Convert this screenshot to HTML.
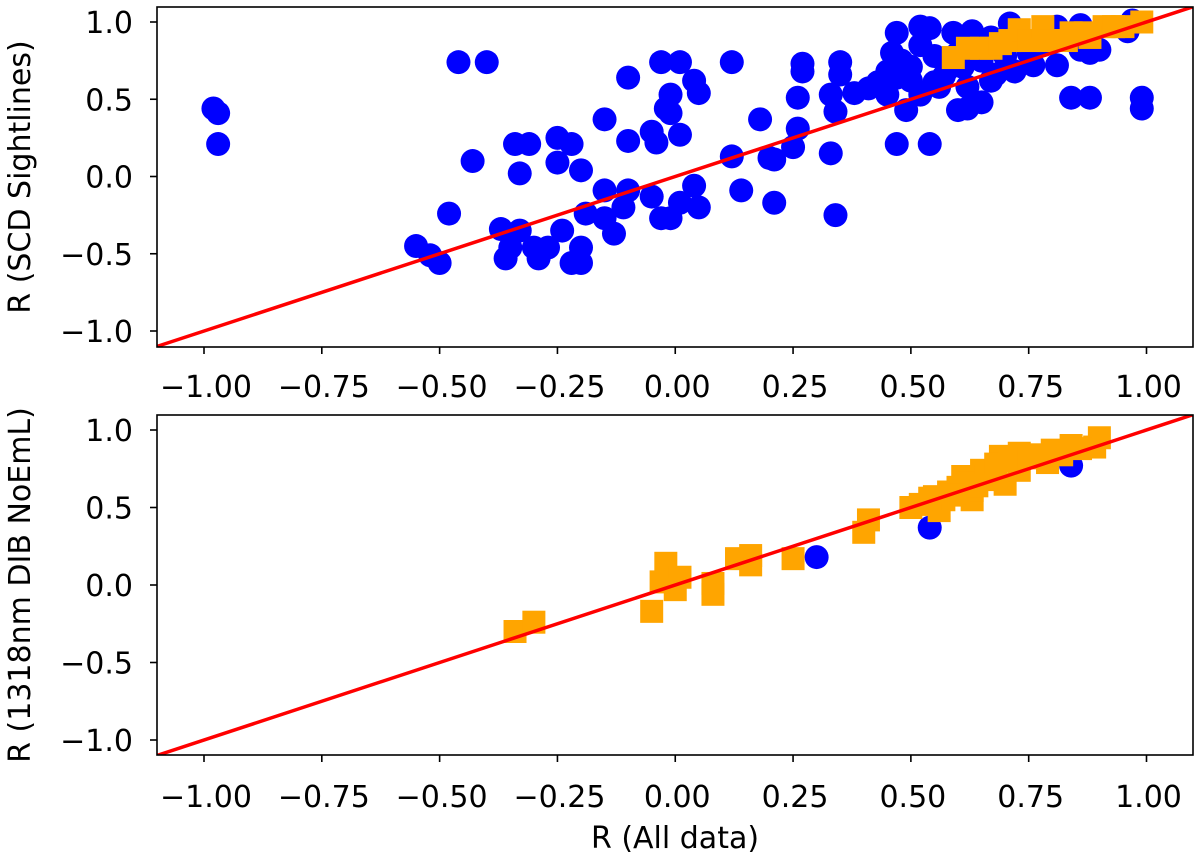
<!DOCTYPE html>
<html><head><meta charset="utf-8"><style>
html,body{margin:0;padding:0;background:#fff;}
svg text{font-family:"DejaVu Sans","Liberation Sans",sans-serif;font-size:30px;fill:#000;}
</style></head><body>
<svg id="chart" width="1200" height="861" xmlns="http://www.w3.org/2000/svg"></svg>
<script>
const xTicks=[-1.00,-0.75,-0.50,-0.25,0.00,0.25,0.50,0.75,1.00];
const yTicks=[-1.0,-0.5,0.0,0.5,1.0];
const topBlueX=[-0.98,-0.97,-0.97,-0.46,-0.40,-0.43,-0.48,-0.55,-0.52,-0.50,-0.34,-0.31,-0.33,-0.25,-0.22,-0.25,-0.20,-0.37,-0.33,-0.35,-0.36,-0.30,-0.27,-0.29,-0.24,-0.20,-0.22,-0.20,-0.15,-0.10,-0.10,-0.05,-0.04,-0.03,0.01,-0.01,-0.02,-0.01,0.01,0.04,0.05,-0.15,-0.10,-0.11,-0.15,-0.19,-0.13,-0.05,-0.03,-0.01,0.01,0.04,0.05,0.12,0.18,0.12,0.20,0.21,0.25,0.26,0.27,0.27,0.26,0.33,0.34,0.33,0.35,0.35,0.38,0.41,0.43,0.46,0.47,0.45,0.49,0.52,0.52,0.54,0.55,0.50,0.47,0.14,0.21,0.34,0.47,0.54,0.60,0.62,0.65,0.67,0.71,0.72,0.76,0.81,0.86,0.88,0.90,0.96,0.97,0.59,0.63,0.67,0.81,0.86,0.84,0.88,0.99,0.99,0.56,0.61,0.48,0.52,0.55,0.58,0.60,0.65,0.70,0.75,0.78,0.45,0.50,0.57,0.62,0.68];
const topBlueY=[0.44,0.41,0.21,0.74,0.74,0.10,-0.24,-0.45,-0.51,-0.56,0.21,0.21,0.02,0.25,0.21,0.09,0.04,-0.34,-0.35,-0.46,-0.53,-0.46,-0.46,-0.53,-0.35,-0.46,-0.56,-0.56,0.37,0.64,0.23,0.29,0.22,0.74,0.74,0.53,0.44,0.41,0.27,0.62,0.54,-0.09,-0.09,-0.20,-0.27,-0.24,-0.37,-0.13,-0.27,-0.27,-0.17,-0.06,-0.20,0.74,0.37,0.13,0.12,0.11,0.19,0.31,0.73,0.68,0.51,0.15,0.42,0.53,0.74,0.66,0.54,0.57,0.61,0.80,0.93,0.53,0.43,0.53,0.97,0.96,0.61,0.71,0.64,-0.09,-0.17,-0.25,0.21,0.21,0.43,0.44,0.48,0.62,0.99,0.68,0.72,0.72,0.82,0.80,0.82,0.94,1.01,0.93,0.94,0.90,0.97,0.98,0.51,0.51,0.51,0.44,0.58,0.71,0.75,0.85,0.78,0.70,0.80,0.75,0.78,0.80,0.85,0.68,0.62,0.65,0.58,0.66];
const topOrangeX=[0.59,0.65,0.67,0.71,0.73,0.75,0.78,0.79,0.84,0.87,0.91,0.93,0.95,0.99,0.88,0.83,0.69,0.62];
const topOrangeY=[0.77,0.83,0.83,0.88,0.95,0.88,0.97,0.88,0.93,0.93,0.97,0.97,0.97,1.00,0.90,0.88,0.86,0.83];
const botBlueX=[0.30,0.54,0.84];
const botBlueY=[0.18,0.37,0.77];
const botOrangeX=[-0.34,-0.30,-0.05,-0.02,-0.03,0.01,0.00,0.08,0.08,0.13,0.16,0.16,0.25,0.41,0.40,0.52,0.55,0.56,0.60,0.63,0.61,0.67,0.69,0.73,0.70,0.63,0.79,0.84,0.89,0.90,0.80,0.73,0.65,0.57,0.50,0.54,0.58,0.62,0.66,0.68,0.71,0.75,0.77,0.82,0.86,0.60,0.64];
const botOrangeY=[-0.30,-0.24,-0.17,0.14,0.02,0.05,-0.03,0.01,-0.06,0.17,0.19,0.13,0.17,0.42,0.34,0.52,0.57,0.48,0.63,0.55,0.70,0.68,0.83,0.85,0.65,0.61,0.79,0.90,0.89,0.95,0.87,0.74,0.74,0.55,0.50,0.56,0.60,0.66,0.70,0.78,0.80,0.82,0.84,0.84,0.88,0.58,0.64];

const svg=document.getElementById('chart');
const NS='http://www.w3.org/2000/svg';
function mk(tag,attrs,parent){const e=document.createElementNS(NS,tag);for(const k in attrs)e.setAttribute(k,attrs[k]);(parent||svg).appendChild(e);return e;}
function fmt(v,d){return (v<0?'\u2212':'')+Math.abs(v).toFixed(d);}

const L=157,R=1193,x0=675.25,xs=471.25;
function X(v){return x0+v*xs;}

function panel(top,bottom,y0,ys,blueX,blueY,orX,orY,ylabel,name,tickBase){
  function Y(v){return y0-v*ys;}
  const g=mk('g',{});
  
  
  const cp='clip-'+name;
  const defs=mk('defs',{},g);
  const c=mk('clipPath',{id:cp},defs);
  mk('rect',{x:L,y:top,width:R-L,height:bottom-top},c);
  const plot=mk('g',{'clip-path':'url(#'+cp+')'},g);
  for(let i=0;i<blueX.length;i++){
    const el=mk('circle',{cx:X(blueX[i]),cy:Y(blueY[i]),r:12,fill:'#0000ff'},plot);
    
    
  }
  for(let i=0;i<orX.length;i++){
    const el=mk('rect',{x:X(orX[i])-11.5,y:Y(orY[i])-11.5,width:23,height:23,fill:'#ffa500'},plot);
    
    
  }
  const ln=mk('line',{x1:X(-1.1),y1:Y(-1.1),x2:X(1.1),y2:Y(1.1),stroke:'#ff0000','stroke-width':3.5},plot);
  
  
  const fr=mk('rect',{x:L,y:top,width:R-L,height:bottom-top,fill:'none',stroke:'#000','stroke-width':1.6},g);
  
  
  xTicks.forEach(t=>{
    mk('line',{x1:X(t),y1:bottom,x2:X(t),y2:bottom+7,stroke:'#000','stroke-width':1.6},g);
    const tx=mk('text',{x:X(t)+2,y:tickBase,'text-anchor':'middle'},g);
    tx.textContent=fmt(t,2);
    
    
  });
  yTicks.forEach(t=>{
    mk('line',{x1:L-7,y1:Y(t),x2:L,y2:Y(t),stroke:'#000','stroke-width':1.6},g);
    const tx=mk('text',{x:L-24,y:Y(t)+11,'text-anchor':'end'},g);
    tx.textContent=fmt(t,1);
    
    
  });
  const yl=mk('text',{x:0,y:0,'text-anchor':'middle',transform:'translate(30,'+((top+bottom)/2)+') rotate(-90)'},g);
  yl.textContent=ylabel;
  
  
}
panel(7,347,176.5,154.5,topBlueX,topBlueY,topOrangeX,topOrangeY,'R (SCD Sightlines)','top-panel',397);
panel(415,755,585,155,botBlueX,botBlueY,botOrangeX,botOrangeY,'R (1318nm DIB NoEmL)','bottom-panel',807);
const xl=mk('text',{x:675,y:848,'text-anchor':'middle'});
xl.textContent='R (All data)';


</script>
</body></html>
